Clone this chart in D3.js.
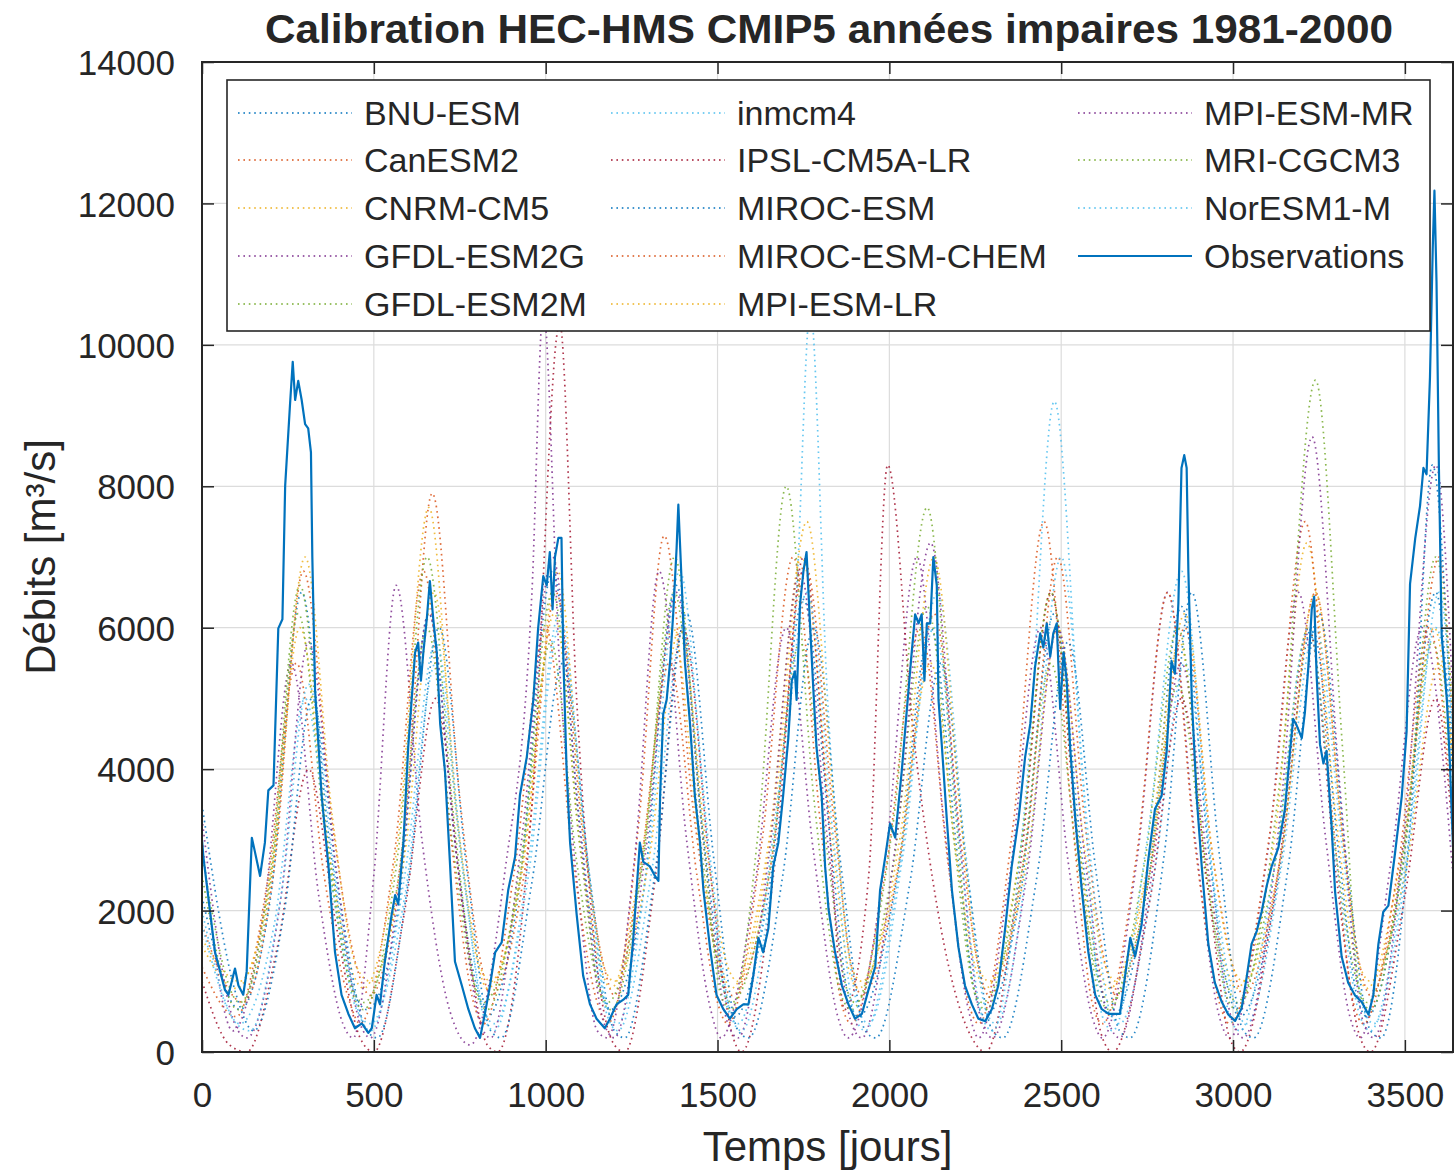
<!DOCTYPE html>
<html>
<head>
<meta charset="utf-8">
<script src="https://cdn.jsdelivr.net/npm/d3@7"></script>
<style>
  html, body { margin: 0; padding: 0; background: #ffffff; }
  svg { display: block; }
  text { font-family: "Liberation Sans", Arial, Helvetica, sans-serif; fill: #262626; }
</style>
</head>
<body>
<svg id="chart" width="1455" height="1173"></svg>
<script>
// ---------------- DATA ----------------
const titleText = "Calibration HEC-HMS CMIP5 années impaires 1981-2000";
const xLabelText = "Temps [jours]";
const yLabelText = "Débits [m³/s]";
const xTicks = [0, 500, 1000, 1500, 2000, 2500, 3000, 3500];
const yTicks = [0, 2000, 4000, 6000, 8000, 10000, 12000, 14000];
const seriesNames = ["BNU-ESM", "CanESM2", "CNRM-CM5", "GFDL-ESM2G", "GFDL-ESM2M", "inmcm4",
  "IPSL-CM5A-LR", "MIROC-ESM", "MIROC-ESM-CHEM", "MPI-ESM-LR", "MPI-ESM-MR", "MRI-CGCM3",
  "NorESM1-M", "Observations"];
const seriesColors = ["#0072BD", "#D95319", "#EDB120", "#7E2F8E", "#77AC30", "#4DBEEE",
  "#A2142F", "#0072BD", "#D95319", "#EDB120", "#7E2F8E", "#77AC30", "#4DBEEE", "#0072BD"];

// [day, discharge]
const bnuEsm = [[0,2200],[110,600],[200,2200],[290,6500],[370,3000],[440,900],[480,600],[570,2000],[660,6200],[740,2800],[800,900],[830,500],[920,2200],[1020,6800],[1100,3200],[1160,900],[1190,600],[1280,2100],[1380,6600],[1460,3000],[1520,900],[1550,500],[1650,2300],[1750,6400],[1830,2900],[1880,800],[1910,500],[2020,2400],[2120,6000],[2200,2700],[2250,800],[2280,500],[2380,2200],[2480,6200],[2560,2800],[2620,800],[2650,500],[2750,2300],[2850,6300],[2930,2800],[2990,800],[3020,500],[3130,2400],[3230,6000],[3310,2700],[3360,800],[3390,500],[3490,2500],[3590,6500],[3640,3800]];
const canEsm2 = [[0,1800],[120,700],[210,2600],[295,6800],[380,3200],[450,1200],[490,800],[590,3200],[670,7900],[750,3600],[810,1300],[840,800],[940,2600],[1030,6500],[1110,3000],[1170,1200],[1200,800],[1270,3200],[1345,7300],[1430,3400],[1500,1300],[1540,800],[1660,2800],[1755,6900],[1840,3200],[1890,1200],[1920,800],[2030,2700],[2130,6200],[2210,2900],[2260,1200],[2290,800],[2400,3000],[2490,7000],[2570,3200],[2630,1200],[2660,800],[2760,2600],[2860,6000],[2940,2800],[3000,1200],[3030,800],[3140,2800],[3240,6500],[3320,3000],[3370,1200],[3400,800],[3500,3000],[3600,7000],[3640,4500]];
const cnrmCm5 = [[0,1500],[100,900],[200,2500],[285,6000],[370,2800],[440,1100],[470,900],[570,3000],[660,7700],[740,3400],[800,1300],[830,900],[930,2500],[1025,6200],[1100,2900],[1160,1200],[1190,900],[1280,2800],[1370,6000],[1450,2800],[1510,1200],[1540,900],[1650,3000],[1745,7000],[1830,3200],[1880,1200],[1910,900],[2020,2500],[2120,5500],[2200,2600],[2250,1200],[2280,900],[2380,2800],[2470,6500],[2550,3000],[2610,1200],[2640,900],[2750,2600],[2845,5800],[2920,2700],[2980,1200],[3010,900],[3120,3000],[3215,7200],[3300,3300],[3360,1200],[3390,900],[3490,2800],[3585,6000],[3640,4000]];
const gfdlEsm2g = [[0,3000],[90,300],[180,2000],[260,5500],[340,2200],[410,400],[440,200],[500,2500],[565,6600],[640,3000],[720,600],[780,100],[880,2500],[960,6500],[993,10500],[1040,5500],[1100,2000],[1150,300],[1180,200],[1260,2800],[1330,6800],[1410,3000],[1480,600],[1510,200],[1610,2400],[1700,6000],[1780,2800],[1850,500],[1880,200],[1990,2800],[2080,7000],[2160,3200],[2230,600],[2260,200],[2350,2500],[2440,6000],[2520,2700],[2590,500],[2620,200],[2720,2700],[2810,6500],[2890,3000],[2960,500],[2990,200],[3100,2800],[3190,6500],[3270,3000],[3340,500],[3370,200],[3460,2700],[3550,6000],[3640,2500]];
const gfdlEsm2m = [[0,2800],[110,700],[200,2400],[280,6200],[360,3000],[430,1000],[470,700],[570,2400],[655,6000],[730,2900],[790,1000],[820,700],[920,2300],[1015,5800],[1090,2700],[1150,1000],[1180,700],[1280,2600],[1375,6500],[1450,3000],[1510,1000],[1540,700],[1650,2500],[1740,5800],[1820,2800],[1870,1000],[1900,700],[2010,2600],[2110,6300],[2190,2900],[2240,1000],[2270,700],[2380,2400],[2470,5500],[2550,2600],[2610,1000],[2640,700],[2750,2300],[2840,5200],[2920,2500],[2980,1000],[3010,700],[3120,2600],[3220,6000],[3300,2800],[3360,1000],[3390,700],[3490,2500],[3580,5800],[3640,3500]];
const inmcm4 = [[0,2000],[110,400],[210,1800],[300,5000],[380,2300],[450,600],[490,400],[590,2200],[680,5500],[760,2500],[820,600],[850,400],[950,2500],[1040,6000],[1120,2800],[1180,600],[1210,400],[1300,2800],[1390,6800],[1470,3000],[1530,600],[1560,400],[1660,3000],[1730,6500],[1770,10500],[1820,5000],[1880,1500],[1910,600],[1940,400],[2040,2800],[2140,6500],[2220,2900],[2280,600],[2310,400],[2410,3000],[2500,7000],[2580,3000],[2640,600],[2670,400],[2770,2500],[2860,5500],[2940,2500],[3010,600],[3040,400],[3140,2600],[3240,6000],[3320,2800],[3380,600],[3410,400],[3510,2800],[3600,6500],[3640,4500]];
const ipslCm5aLr = [[0,1000],[80,100],[130,0],[220,1500],[310,4000],[390,1800],[460,200],[500,0],[590,2000],[680,5000],[760,2000],[830,100],[860,0],[960,3500],[1041,10300],[1090,5000],[1150,1200],[1200,100],[1230,0],[1320,2500],[1400,6000],[1480,2500],[1540,300],[1570,0],[1670,2800],[1750,7000],[1820,3500],[1870,600],[1940,2500],[1995,8300],[2070,4500],[2160,1500],[2240,200],[2280,0],[2380,2600],[2470,6500],[2550,2800],[2620,200],[2650,0],[2760,2200],[2850,5000],[2930,2200],[2990,200],[3020,0],[3130,2500],[3220,6000],[3300,2500],[3370,200],[3400,0],[3500,2200],[3590,5000],[3640,3000]];
const mirocEsm = [[0,3500],[100,800],[150,300],[240,2000],[320,5000],[400,2200],[480,300],[510,200],[600,2400],[690,6000],[770,2600],[840,300],[870,200],[960,2400],[1050,5500],[1130,2400],[1200,300],[1230,200],[1320,2600],[1410,6200],[1490,2700],[1560,300],[1590,200],[1690,2500],[1780,6000],[1860,2600],[1930,300],[1960,200],[2060,2400],[2150,5500],[2230,2400],[2300,300],[2330,200],[2430,2500],[2520,5800],[2600,2600],[2670,300],[2700,200],[2800,2800],[2880,6500],[2960,2800],[3030,300],[3060,200],[3160,2600],[3250,6200],[3330,2700],[3400,300],[3430,200],[3520,3500],[3580,8300],[3640,4000]];
const mirocEsmChem = [[0,1200],[100,500],[190,2400],[275,5500],[355,2500],[430,700],[460,400],[560,2800],[645,6800],[725,3000],[790,700],[820,400],[910,2600],[1000,6000],[1080,2700],[1150,700],[1180,400],[1270,2400],[1360,5500],[1440,2500],[1500,700],[1530,400],[1630,3000],[1720,7000],[1800,3200],[1860,700],[1890,400],[1990,2600],[2090,6000],[2170,2700],[2230,700],[2260,400],[2360,3200],[2450,7500],[2530,3400],[2590,700],[2620,400],[2720,2800],[2810,6500],[2890,2900],[2960,700],[2990,400],[3110,3200],[3210,7500],[3290,3300],[3350,700],[3380,400],[3480,2600],[3570,6000],[3640,3200]];
const mpiEsmLr = [[0,1600],[110,1000],[210,2800],[300,7000],[380,3300],[450,1200],[490,1000],[590,2800],[675,6500],[750,3000],[810,1200],[840,1000],[940,2900],[1035,6800],[1110,3100],[1170,1200],[1200,1000],[1300,2700],[1390,6000],[1470,2800],[1530,1200],[1560,1000],[1660,3200],[1760,7500],[1840,3400],[1890,1200],[1920,1000],[2030,3000],[2130,7000],[2210,3200],[2260,1200],[2290,1000],[2400,2700],[2490,6000],[2570,2800],[2630,1200],[2660,1000],[2760,2800],[2860,6200],[2940,2800],[3000,1200],[3030,1000],[3140,2800],[3240,6500],[3320,3000],[3370,1200],[3400,1000],[3500,2500],[3600,5500],[3640,4200]];
const mpiEsmMr = [[0,3300],[95,400],[130,200],[230,2200],[310,5800],[390,2600],[460,400],[490,200],[580,2600],[660,6200],[740,2800],[810,400],[840,200],[930,3000],[1020,7000],[1100,3100],[1170,400],[1200,200],[1290,2800],[1380,6500],[1460,2900],[1530,400],[1560,200],[1650,2800],[1740,6800],[1820,3000],[1890,400],[1920,200],[2020,3000],[2120,7200],[2200,3200],[2270,400],[2300,200],[2400,2500],[2490,6000],[2570,2700],[2640,400],[2670,200],[2760,2400],[2850,5500],[2930,2500],[3000,400],[3030,200],[3140,3500],[3230,8700],[3310,3800],[3380,400],[3410,200],[3500,3200],[3590,8300],[3640,5000]];
const mriCgcm3 = [[0,2500],[105,600],[200,2600],[285,6600],[365,3000],[440,800],[470,600],[570,2800],[655,7000],[735,3200],[800,800],[830,600],[930,2800],[1020,6500],[1100,2900],[1160,800],[1190,600],[1290,3000],[1375,7000],[1455,3200],[1510,800],[1540,600],[1620,3200],[1700,8000],[1780,3600],[1860,800],[1890,600],[2010,3200],[2110,7700],[2190,3500],[2250,800],[2280,600],[2380,2800],[2470,6500],[2550,3000],[2610,800],[2640,600],[2740,2600],[2840,6000],[2920,2700],[2980,800],[3010,600],[3140,4000],[3240,9500],[3320,4200],[3370,800],[3400,600],[3500,3000],[3590,7000],[3640,4800]];
const norEsm1m = [[0,1800],[100,400],[140,300],[230,2200],[310,5200],[390,2400],[460,500],[490,300],[590,2500],[680,5800],[760,2600],[820,500],[850,300],[950,2700],[1040,6200],[1120,2800],[1180,500],[1210,300],[1310,2600],[1400,6000],[1480,2700],[1540,500],[1570,300],[1670,2800],[1760,6500],[1840,2900],[1900,500],[1930,300],[2030,2600],[2130,6000],[2210,2700],[2270,500],[2300,300],[2400,3800],[2480,9200],[2560,4000],[2620,500],[2650,300],[2750,3000],[2850,6800],[2930,3000],[2990,500],[3020,300],[3120,2600],[3220,6000],[3300,2700],[3370,500],[3400,300],[3500,2600],[3590,6000],[3640,4500]];
const observations = [[0,3000],[4,2760],[38,1410],[67,875],[77,810],[96,1180],[106,940],[120,810],[130,1140],[145,3030],[154,2830],[169,2490],[183,2960],[193,3700],[208,3770],[222,5990],[234,6120],[242,8010],[256,9150],[264,9760],[271,9220],[280,9490],[290,9220],[300,8880],[309,8820],[317,8480],[321,7000],[329,5115],[348,3634],[368,2625],[387,1413],[406,808],[426,538],[445,336],[465,404],[484,270],[494,336],[508,808],[518,673],[532,1280],[552,1950],[562,2220],[571,2090],[586,2960],[600,4310],[620,5650],[629,5790],[637,5250],[644,5650],[654,6120],[663,6660],[673,6120],[683,5650],[693,4640],[707,3970],[722,2625],[736,1280],[756,940],[775,605],[794,336],[809,200],[823,538],[838,940],[853,1410],[872,1550],[891,2290],[911,2760],[925,3630],[945,4170],[964,4980],[978,5990],[993,6730],[1003,6600],[1012,7070],[1020,6260],[1027,7000],[1037,7270],[1046,7270],[1051,5650],[1061,3970],[1071,2960],[1090,1950],[1109,1080],[1129,673],[1148,471],[1172,336],[1187,471],[1206,673],[1226,740],[1240,808],[1255,1615],[1274,2960],[1284,2690],[1303,2625],[1318,2490],[1328,2420],[1333,3630],[1342,4780],[1352,4980],[1362,5520],[1371,6190],[1381,7130],[1386,7740],[1396,6600],[1405,5520],[1420,4640],[1434,3630],[1449,2960],[1459,2290],[1478,1480],[1497,808],[1517,605],[1536,471],[1556,605],[1575,673],[1590,673],[1604,1080],[1619,1615],[1633,1410],[1648,1750],[1662,2625],[1677,2960],[1691,3630],[1706,4440],[1716,5250],[1725,5380],[1730,4980],[1740,6330],[1750,6800],[1759,7070],[1769,6060],[1779,5110],[1788,4310],[1803,3630],[1813,2625],[1823,2020],[1842,1410],[1862,940],[1881,673],[1900,471],[1920,538],[1939,875],[1959,1210],[1973,2290],[1988,2760],[2002,3230],[2017,3030],[2036,3970],[2051,4850],[2065,5650],[2075,6190],[2085,6060],[2094,6190],[2102,5250],[2109,6060],[2119,6060],[2128,7000],[2138,6600],[2143,4980],[2153,4310],[2167,3300],[2182,2290],[2201,1480],[2220,940],[2240,673],[2259,471],[2279,437],[2298,605],[2317,940],[2337,1750],[2356,2625],[2376,3300],[2395,4170],[2410,4640],[2424,5450],[2439,5920],[2448,5720],[2458,6060],[2468,5590],[2477,5920],[2487,6060],[2497,4850],[2507,5650],[2516,5250],[2526,4310],[2541,3300],[2560,2290],[2579,1410],[2599,808],[2618,605],[2638,538],[2657,538],[2671,538],[2686,1080],[2701,1615],[2715,1350],[2734,1800],[2753,2710],[2773,3440],[2792,3620],[2807,4260],[2816,5080],[2821,5530],[2831,5350],[2841,6350],[2850,8260],[2858,8440],[2865,8260],[2870,6810],[2880,4990],[2894,3620],[2909,2620],[2928,1530],[2947,980],[2967,710],[2986,530],[3006,440],[3025,620],[3040,1070],[3054,1530],[3069,1710],[3083,1980],[3098,2350],[3112,2620],[3132,2890],[3151,3440],[3166,4260],[3175,4710],[3185,4620],[3200,4440],[3209,4800],[3219,5440],[3229,6260],[3236,6440],[3243,5350],[3253,4350],[3263,4080],[3272,4260],[3287,3170],[3297,2260],[3316,1350],[3335,980],[3355,800],[3374,710],[3394,530],[3408,800],[3423,1530],[3437,1980],[3452,2070],[3471,2800],[3491,3620],[3505,4530],[3515,6620],[3530,7260],[3544,7720],[3554,8260],[3563,8170],[3573,9540],[3581,11360],[3586,12180],[3592,10900],[3599,8260],[3607,5900],[3622,4990],[3631,4080],[3640,2900]];

const allSeries = [bnuEsm, canEsm2, cnrmCm5, gfdlEsm2g, gfdlEsm2m, inmcm4, ipslCm5aLr,
  mirocEsm, mirocEsmChem, mpiEsmLr, mpiEsmMr, mriCgcm3, norEsm1m, observations];

// ---------------- LAYOUT ----------------
const plot = { left: 202, right: 1453, top: 62, bottom: 1052 };
const svg = d3.select("#chart");
const x = d3.scaleLinear().domain([0, 3640]).range([plot.left, plot.right]);
const y = d3.scaleLinear().domain([0, 14000]).range([plot.bottom, plot.top]);
const fmt = d3.format("d");

// grid
const grid = svg.append("g").attr("stroke", "#dcdcdc").attr("stroke-width", 1.2);
grid.selectAll(".gx").data(xTicks.slice(1)).join("line")
  .attr("x1", d => x(d)).attr("x2", d => x(d)).attr("y1", plot.top).attr("y2", plot.bottom);
grid.selectAll(".gy").data(yTicks.slice(1, -1)).join("line")
  .attr("y1", d => y(d)).attr("y2", d => y(d)).attr("x1", plot.left).attr("x2", plot.right);

// clip
svg.append("clipPath").attr("id", "clip").append("rect")
  .attr("x", plot.left).attr("y", plot.top)
  .attr("width", plot.right - plot.left).attr("height", plot.bottom - plot.top);

const smoothLine = d3.line().x(d => x(d[0])).y(d => y(d[1])).curve(d3.curveMonotoneX);
const rawLine = d3.line().x(d => x(d[0])).y(d => y(d[1]));

const lines = svg.append("g").attr("clip-path", "url(#clip)");
allSeries.forEach((s, i) => {
  const isObs = i === allSeries.length - 1;
  lines.append("path")
    .attr("d", isObs ? rawLine(s) : smoothLine(s))
    .attr("fill", "none")
    .attr("stroke", seriesColors[i])
    .attr("stroke-width", isObs ? 2.2 : 1.7)
    .attr("stroke-opacity", isObs ? 1 : 0.85)
    .attr("stroke-dasharray", isObs ? null : "1.6 3.8")
    .attr("stroke-linejoin", "round");
});

// axes
const tickLen = 12;
const axFont = 35;
const gx = svg.append("g").attr("transform", `translate(0,${plot.bottom})`)
  .call(d3.axisBottom(x).tickValues(xTicks).tickFormat(fmt).tickSizeInner(-tickLen).tickSizeOuter(0).tickPadding(30));
const gy = svg.append("g").attr("transform", `translate(${plot.left},0)`)
  .call(d3.axisLeft(y).tickValues(yTicks).tickFormat(fmt).tickSizeInner(-tickLen).tickSizeOuter(0).tickPadding(27));
const gt = svg.append("g").attr("transform", `translate(0,${plot.top})`)
  .call(d3.axisTop(x).tickValues(xTicks).tickSizeInner(-tickLen).tickSizeOuter(0).tickFormat(""));
const gr = svg.append("g").attr("transform", `translate(${plot.right},0)`)
  .call(d3.axisRight(y).tickValues(yTicks).tickSizeInner(-tickLen).tickSizeOuter(0).tickFormat(""));
[gx, gy, gt, gr].forEach(g => {
  g.selectAll(".domain").remove();
  g.selectAll("line").attr("stroke", "#262626").attr("stroke-width", 1.5);
  g.selectAll("text").attr("font-size", axFont).attr("fill", "#262626")
    .attr("font-family", "'Liberation Sans', Arial, sans-serif");
});
gy.selectAll("text").attr("dy", "0.36em");
// box
svg.append("rect").attr("x", plot.left).attr("y", plot.top)
  .attr("width", plot.right - plot.left).attr("height", plot.bottom - plot.top)
  .attr("fill", "none").attr("stroke", "#262626").attr("stroke-width", 2);

// title and labels
svg.append("text").attr("x", 829).attr("y", 43).attr("text-anchor", "middle")
  .attr("font-size", 41).attr("font-weight", "bold").attr("fill", "#000")
  .attr("textLength", 1128).attr("lengthAdjust", "spacingAndGlyphs").text(titleText);
svg.append("text").attr("x", (plot.left + plot.right) / 2).attr("y", 1161).attr("text-anchor", "middle")
  .attr("font-size", 42).attr("fill", "#262626").text(xLabelText);
svg.append("text").attr("transform", `translate(55,${(plot.top + plot.bottom) / 2}) rotate(-90)`)
  .attr("text-anchor", "middle").attr("font-size", 42).attr("fill", "#262626").text(yLabelText);

// legend
const leg = svg.append("g");
leg.append("rect").attr("x", 227).attr("y", 80).attr("width", 1203).attr("height", 251)
  .attr("fill", "#ffffff").attr("stroke", "#262626").attr("stroke-width", 1.6);
const colX = [238, 611, 1078];
const rowY = [113, 160, 208, 256, 304];
seriesNames.forEach((name, i) => {
  const c = Math.floor(i / 5), r = i % 5;
  const isObs = i === seriesNames.length - 1;
  leg.append("line")
    .attr("x1", colX[c]).attr("x2", colX[c] + 114)
    .attr("y1", rowY[r]).attr("y2", rowY[r])
    .attr("stroke", seriesColors[i]).attr("stroke-width", isObs ? 2.2 : 1.7)
    .attr("stroke-dasharray", isObs ? null : "1.6 3.8");
  leg.append("text").attr("x", colX[c] + 126).attr("y", rowY[r]).attr("dy", "0.36em")
    .attr("font-size", 34).attr("fill", "#262626").text(name);
});
</script>
</body>
</html>
